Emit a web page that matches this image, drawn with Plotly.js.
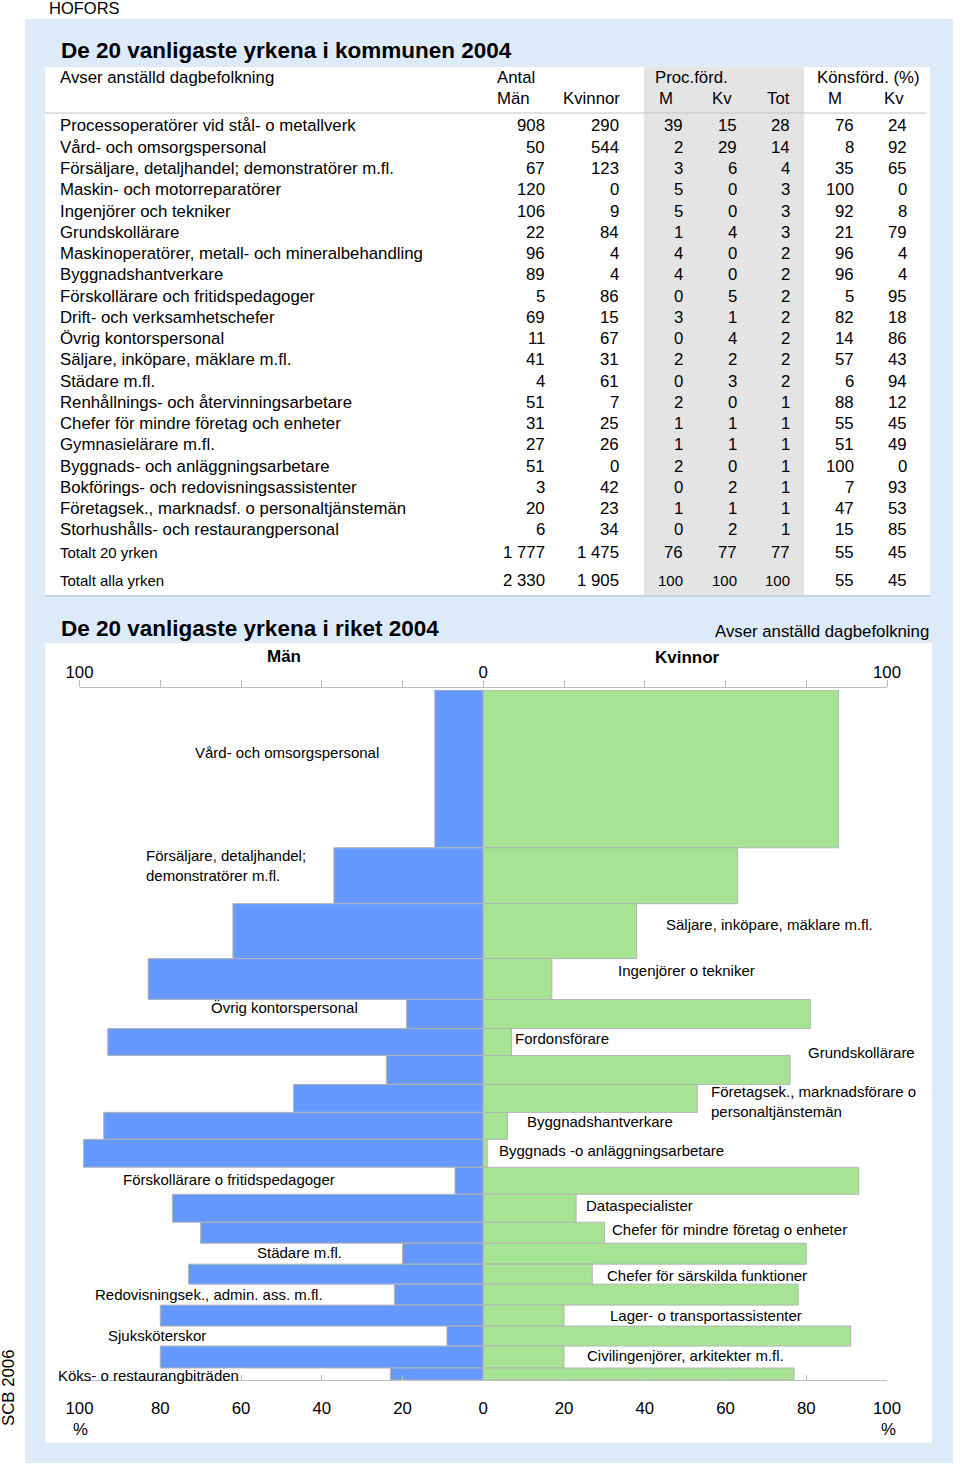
<!DOCTYPE html>
<html><head><meta charset="utf-8">
<script src="https://cdn.plot.ly/plotly-3.0.1.min.js"></script>
<style>html,body{margin:0;padding:0;background:#fff}#chart{width:960px;height:1467px}</style>
</head><body><div id="chart"></div>
<script>
// ---------- DATA ----------
const municipality = "HOFORS";
const tableTitle = "De 20 vanligaste yrkena i kommunen 2004";
const chartTitle = "De 20 vanligaste yrkena i riket 2004";
const subTitle = "Avser anställd dagbefolkning";

const tblOcc = [
  "Processoperatörer vid stål- o metallverk",
  "Vård- och omsorgspersonal",
  "Försäljare, detaljhandel; demonstratörer m.fl.",
  "Maskin- och motorreparatörer",
  "Ingenjörer och tekniker",
  "Grundskollärare",
  "Maskinoperatörer, metall- och mineralbehandling",
  "Byggnadshantverkare",
  "Förskollärare och fritidspedagoger",
  "Drift- och verksamhetschefer",
  "Övrig kontorspersonal",
  "Säljare, inköpare, mäklare m.fl.",
  "Städare m.fl.",
  "Renhållnings- och återvinningsarbetare",
  "Chefer för mindre företag och enheter",
  "Gymnasielärare m.fl.",
  "Byggnads- och anläggningsarbetare",
  "Bokförings- och redovisningsassistenter",
  "Företagsek., marknadsf. o personaltjänstemän",
  "Storhushålls- och restaurangpersonal"
];
const tblMen     = [908, 50, 67, 120, 106, 22, 96, 89, 5, 69, 11, 41, 4, 51, 31, 27, 51, 3, 20, 6];
const tblWomen   = [290, 544, 123, 0, 9, 84, 4, 4, 86, 15, 67, 31, 61, 7, 25, 26, 0, 42, 23, 34];
const tblPctM    = [39, 2, 3, 5, 5, 1, 4, 4, 0, 3, 0, 2, 0, 2, 1, 1, 2, 0, 1, 0];
const tblPctKv   = [15, 29, 6, 0, 0, 4, 0, 0, 5, 1, 4, 2, 3, 0, 1, 1, 0, 2, 1, 2];
const tblPctTot  = [28, 14, 4, 3, 3, 3, 2, 2, 2, 2, 2, 2, 2, 1, 1, 1, 1, 1, 1, 1];
const tblSexM    = [76, 8, 35, 100, 92, 21, 96, 96, 5, 82, 14, 57, 6, 88, 55, 51, 100, 7, 47, 15];
const tblSexKv   = [24, 92, 65, 0, 8, 79, 4, 4, 95, 18, 86, 43, 94, 12, 45, 49, 0, 93, 53, 85];

const totLabels  = ["Totalt 20 yrken", "Totalt alla yrken"];
const totMen     = [1777, 2330];
const totWomen   = [1475, 1905];
const totPctM    = [76, 100];
const totPctKv   = [77, 100];
const totPctTot  = [77, 100];
const totSexM    = [55, 55];
const totSexKv   = [45, 45];

const natOcc = [
  "Vård- och omsorgspersonal",
  "Försäljare, detaljhandel;<br>demonstratörer m.fl.",
  "Säljare, inköpare, mäklare m.fl.",
  "Ingenjörer o tekniker",
  "Övrig kontorspersonal",
  "Fordonsförare",
  "Grundskollärare",
  "Företagsek., marknadsförare o<br>personaltjänstemän",
  "Byggnadshantverkare",
  "Byggnads -o anläggningsarbetare",
  "Förskollärare o fritidspedagoger",
  "Dataspecialister",
  "Chefer för mindre företag o enheter",
  "Städare m.fl.",
  "Chefer för särskilda funktioner",
  "Redovisningsek., admin. ass. m.fl.",
  "Lager- o transportassistenter",
  "Sjuksköterskor",
  "Civilingenjörer, arkitekter m.fl.",
  "Köks- o restaurangbiträden"
];
const natMenPct   = [12, 37, 62, 83, 19, 93, 24, 47, 94, 99, 7, 77, 70, 20, 73, 22, 80, 9, 80, 23];
const natWomenPct = [88, 63, 38, 17, 81, 7, 76, 53, 6, 1, 93, 23, 30, 80, 27, 78, 20, 91, 20, 77];
// relative size of each occupation (bar thickness)
const natSize     = [158, 56, 55, 41, 29, 27, 29, 28, 27, 28, 27, 28, 21, 21, 20, 21, 21, 20, 22, 12];

const tickVals = [-100, -80, -60, -40, -20, 0, 20, 40, 60, 80, 100];
const tickText = ["100", "80", "60", "40", "20", "0", "20", "40", "60", "80", "100"];
const topTickText = ["100", "", "", "", "", "0", "", "", "", "", "100"];

// ---------- LAYOUT HELPERS (positions / styles) ----------
const FONT = "Liberation Sans, Arial, sans-serif";
const FS = 16.8;
const W = 960, H = 1467;
const X = p => p / W;
const Y = p => 1 - p / H;
function ann(text, x, y, o) {
  o = o || {};
  const xa = o.xa || "left";
  const shift = xa === "left" ? -2 : (xa === "right" ? 2 : 0);
  return {
    text: text, xref: "paper", yref: "paper", x: X(x + shift), y: Y(y),
    xanchor: xa, yanchor: "middle", showarrow: false,
    align: o.align || "left", borderpad: 0,
    font: {family: FONT, size: o.size || FS, color: "#000"},
    textangle: o.angle || 0
  };
}
function rect(x0, y0, x1, y1, fill) {
  return {type: "rect", xref: "paper", yref: "paper", x0: X(x0), x1: X(x1), y0: Y(y1), y1: Y(y0),
          fillcolor: fill, line: {width: 0}, layer: "below"};
}
function hline(x0, x1, y, color) {
  return {type: "line", xref: "paper", yref: "paper", x0: X(x0), x1: X(x1), y0: Y(y), y1: Y(y),
          line: {color: color, width: 1}, layer: "below"};
}
const fmt = n => String(n).replace(/\B(?=(\d{3})+(?!\d))/g, " ");

const annotations = [];
const shapes = [];

// panels
shapes.push(rect(25, 19, 953, 1463, "#dceafa"));
shapes.push(rect(45, 67, 930, 595, "#ffffff"));
shapes.push(rect(644, 67, 804, 595, "#e4e4e4"));
shapes.push(hline(45, 927, 113, "#c4c4c4"));
shapes.push(hline(45, 930, 596, "#b8b8b8"));
shapes.push(rect(45, 643, 932, 1443, "#ffffff"));

// header texts
annotations.push(ann(municipality, 50, 8, {size: 16.5}));
annotations.push(ann("<b>" + tableTitle + "</b>", 62, 50, {size: 22.5}));
annotations.push(ann(subTitle, 61, 77));
annotations.push(ann("Antal", 498, 77));
annotations.push(ann("Män", 498, 98));
annotations.push(ann("Kvinnor", 619, 98, {xa: "right"}));
annotations.push(ann("Proc.förd.", 656, 77));
annotations.push(ann("M", 666, 98, {xa: "center"}));
annotations.push(ann("Kv", 731, 98, {xa: "right"}));
annotations.push(ann("Tot", 789, 98, {xa: "right"}));
annotations.push(ann("Könsförd. (%)", 818, 77));
annotations.push(ann("M", 835, 98, {xa: "center"}));
annotations.push(ann("Kv", 903, 98, {xa: "right"}));

// table rows
const colRight = [544, 618, 682, 736, 789, 853, 906];
const rowY0 = 126, rowStep = 21.26;
tblOcc.forEach((lab, i) => {
  const y = rowY0 + i * rowStep;
  annotations.push(ann(lab, 61, y));
  [tblMen[i], tblWomen[i], tblPctM[i], tblPctKv[i], tblPctTot[i], tblSexM[i], tblSexKv[i]].forEach((v, j) => {
    annotations.push(ann(fmt(v), colRight[j], y, {xa: "right"}));
  });
});
const totY = [552, 580];
totLabels.forEach((lab, i) => {
  const y = totY[i];
  annotations.push(ann(lab, 61, y, {size: 15}));
  const vals = [totMen[i], totWomen[i], totPctM[i], totPctKv[i], totPctTot[i], totSexM[i], totSexKv[i]];
  vals.forEach((v, j) => {
    const small = (i === 1 && j >= 2 && j <= 4);
    annotations.push(ann(fmt(v), colRight[j], y, {xa: "right", size: small ? 15 : FS}));
  });
});

// second section texts
annotations.push(ann("<b>" + chartTitle + "</b>", 62, 629, {size: 22.5}));
annotations.push(ann(subTitle, 928, 631, {xa: "right"}));
annotations.push(ann("<b>Män</b>", 284, 656, {xa: "center", size: 17}));
annotations.push(ann("<b>Kvinnor</b>", 687, 657, {xa: "center", size: 17}));
annotations.push(ann("%", 80, 1429, {xa: "center"}));
annotations.push(ann("%", 888, 1429, {xa: "center"}));
annotations.push(ann("SCB 2006", 8, 1388, {xa: "center", angle: -90, size: 16.8}));

// bars geometry from data
const centers = [];
let acc = 0;
natSize.forEach(s => { centers.push(acc + s / 2); acc += s; });
const total = acc;

// axis mapping for label x (percent -> paper)
const XD0 = 79.5, XD1 = 887;
const pctToPaper = v => X(XD0 + (v + 100) / 200 * (XD1 - XD0));

// label placement (x in %, dy offset from bar centre)
const labX  = [-71.4, -83.5, 45.2, 33.4, -67.4, 7.9, 80.4, 56.4, 10.8, 3.9, -89.2, 25.4, 31.9, -56.1, 30.6, -96.2, 31.4, -93.0, 25.7, -105.3];
const labDy = [-16, -10, -6.5, -8.5, -6.5, -3.5, -17.5, 3, -4.5, -3, -1.5, -3, -3.5, -1.5, 1, -0.5, -0.5, -1, -2, 1];
natOcc.forEach((lab, i) => {
  annotations.push({
    text: lab, xref: "paper", yref: "y", x: pctToPaper(labX[i]) - X(1), y: centers[i] + labDy[i],
    xanchor: "left", yanchor: "middle", align: "left", showarrow: false, borderpad: 0,
    font: {family: FONT, size: 15, color: "#000"}
  });
});

const traces = [
  {type: "bar", orientation: "h", x: natMenPct.map(v => -v), y: centers, width: natSize,
   marker: {color: "#6699ff", line: {color: "#b4b4b4", width: 1}}, hoverinfo: "skip", xaxis: "x", yaxis: "y"},
  {type: "bar", orientation: "h", x: natWomenPct, y: centers, width: natSize,
   marker: {color: "#a6e493", line: {color: "#b4b4b4", width: 1}}, hoverinfo: "skip", xaxis: "x", yaxis: "y"},
  {type: "scatter", mode: "markers", x: [-100, 100], y: [0, 0], marker: {opacity: 0},
   hoverinfo: "skip", xaxis: "x2", yaxis: "y"}
];

const axisCommon = {
  range: [-100, 100], tickvals: tickVals, showgrid: false, showline: true,
  linecolor: "#bdbdbd", linewidth: 1, tickcolor: "#bdbdbd", tickwidth: 1,
  tickfont: {family: FONT, size: FS, color: "#000"}, fixedrange: true,
  domain: [X(XD0), X(XD1)]
};

const layout = {
  width: W, height: H, margin: {l: 0, r: 0, t: 0, b: 0, pad: 0},
  paper_bgcolor: "#ffffff", plot_bgcolor: "rgba(0,0,0,0)",
  showlegend: false, barmode: "overlay", bargap: 0,
  font: {family: FONT, color: "#000"},
  xaxis: Object.assign({}, axisCommon, {
    ticktext: tickText, ticks: "inside", ticklen: 5, anchor: "y", side: "bottom",
    zeroline: true, zerolinecolor: "#8a8a8a", zerolinewidth: 1, ticklabelstandoff: 13
  }),
  xaxis2: Object.assign({}, axisCommon, {
    ticktext: topTickText, ticks: "outside", ticklen: 7, overlaying: "x", side: "top",
    anchor: "free", position: Y(687), zeroline: false, ticklabelstandoff: -5
  }),
  yaxis: {domain: [Y(1380), Y(690)], range: [total, 0], visible: false, fixedrange: true},
  shapes: shapes,
  annotations: annotations
};

Plotly.newPlot("chart", traces, layout, {staticPlot: true, displayModeBar: false});
</script>
</body></html>
